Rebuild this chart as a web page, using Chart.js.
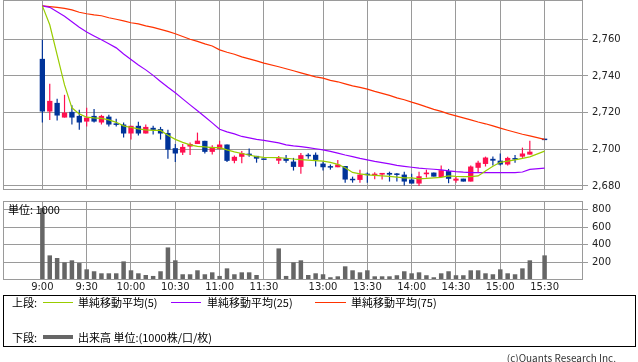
<!DOCTYPE html>
<html>
<head>
<meta charset="utf-8">
<script src="https://cdn.jsdelivr.net/npm/chart.js@4.4.1/dist/chart.umd.min.js"></script>
<style>
  html, body { margin: 0; padding: 0; background: #fff; }
  #wrap { position: relative; width: 638px; height: 362px; overflow: hidden;
          font-family: "Noto Sans CJK JP", "DejaVu Sans", sans-serif; color: #000; }
  #priceCanvas { position: absolute; left: 0; top: 0; }
  #volCanvas { position: absolute; left: 0; top: 196px; }
  .txt { position: absolute; font-size: 11px; line-height: 14px; white-space: nowrap; }
  .swatch { position: absolute; height: 1px; }
  #legendBox { position: absolute; left: 3px; top: 295px; width: 633px; height: 52px;
               border: 1px solid #000; box-sizing: border-box; }
</style>
</head>
<body>
<div id="wrap">
  <canvas id="priceCanvas" width="638" height="191"></canvas>
  <canvas id="volCanvas" width="638" height="100"></canvas>
  <div class="txt" style="left:8px; top:202px;">単位: 1000</div>

  <div id="legendBox"></div>
  <div class="txt" style="left:12px; top:295px;">上段:</div>
  <div class="swatch" style="left:43px; top:302px; width:30px; background:#99cc00;"></div>
  <div class="txt" style="left:78px; top:295px;">単純移動平均(5)</div>
  <div class="swatch" style="left:171px; top:302px; width:30px; background:#9900ff;"></div>
  <div class="txt" style="left:207px; top:295px;">単純移動平均(25)</div>
  <div class="swatch" style="left:315px; top:302px; width:31px; background:#ff3300;"></div>
  <div class="txt" style="left:351px; top:295px;">単純移動平均(75)</div>
  <div class="txt" style="left:12px; top:330px;">下段:</div>
  <div class="swatch" style="left:43px; top:335px; width:30px; height:4px; background:#666;"></div>
  <div class="txt" style="left:78px; top:330px;">出来高 単位:(1000株/口/枚)</div>
  <div class="txt" style="right:22px; top:351px; font-size:10px; color:#333;">(c)Quants Research Inc.</div>
</div>

<script>
// 5-minute slots; '' is the lunch-break spacer
var times = [
  '9:00','9:05','9:10','9:15','9:20','9:25','9:30','9:35','9:40','9:45',
  '9:50','9:55','10:00','10:05','10:10','10:15','10:20','10:25','10:30','10:35',
  '10:40','10:45','10:50','10:55','11:00','11:05','11:10','11:15','11:20','11:25',
  '11:30','','12:30','12:35','12:40','12:45','12:50','12:55','13:00','13:05',
  '13:10','13:15','13:20','13:25','13:30','13:35','13:40','13:45','13:50','13:55',
  '14:00','14:05','14:10','14:15','14:20','14:25','14:30','14:35','14:40','14:45',
  '14:50','14:55','15:00','15:05','15:10','15:15','15:20','15:25','15:30'
];
var timeTicks = ['9:00','9:30','10:00','10:30','11:00','11:30','13:00','13:30','14:00','14:30','15:00','15:30'];
var priceTicks = [2680, 2700, 2720, 2740, 2760];
var volumeTicks = [200, 400, 600, 800];

var opens = [
  2749.3,2720.6,2725.3,2717.3,2720.4,2718.2,2715.1,2718.2,2714.6,2717.8,
  2713.9,2713.5,2708.6,2712.8,2708.6,2711.7,2711.0,2708.9,2700.6,2698.2,
  2701.5,2702.9,2704.6,2698.6,2700.2,2702.6,2693.7,2695.9,2697.5,2696.4,
  2694.2,null,2693.8,2695.1,2693.3,2690.4,2696.8,2697.0,2692.2,2690.4,
  2690.2,2690.9,2683.5,2683.3,2686.2,2685.7,2686.2,2687.1,2686.4,2686.2,
  2683.5,2681.3,2686.4,2687.3,2684.9,2688.1,2682.9,2684.0,2682.4,2689.9,
  2692.0,2694.8,2693.8,2691.7,2694.9,2696.0,2697.1,null,2705.0
];
var highs = [
  2759.7,2735.7,2727.5,2729.7,2724.0,2721.5,2722.6,2722.0,2718.8,2718.8,
  2716.6,2714.6,2712.8,2715.0,2713.5,2712.8,2712.2,2710.6,2702.9,2702.9,
  2703.7,2709.1,2704.6,2702.2,2704.6,2702.6,2696.6,2699.0,2700.4,2696.4,
  2694.2,null,2696.4,2696.9,2695.3,2698.0,2697.9,2698.2,2693.3,2691.7,
  2694.2,2690.9,2685.1,2688.8,2687.3,2687.5,2687.1,2687.8,2687.1,2687.8,
  2686.7,2687.8,2688.9,2687.3,2691.1,2689.3,2684.9,2684.0,2691.1,2693.7,
  2696.0,2696.0,2697.7,2695.9,2696.9,2700.9,2704.7,null,2705.0
];
var lows = [
  2714.6,2716.0,2715.7,2717.3,2713.5,2710.6,2712.4,2714.6,2713.5,2712.4,
  2712.4,2706.4,2705.3,2707.5,2708.6,2708.0,2705.3,2694.9,2693.1,2696.9,
  2696.9,2702.9,2697.7,2697.1,2699.8,2693.1,2692.4,2692.4,2695.9,2692.7,
  2694.2,null,2692.0,2692.7,2688.4,2686.7,2694.9,2690.6,2688.4,2688.9,
  2690.2,2681.8,2681.8,2681.8,2681.8,2683.7,2683.5,2682.4,2682.4,2680.2,
  2681.3,2680.0,2684.6,2685.1,2684.9,2681.5,2681.8,2682.4,2682.4,2687.3,
  2690.6,2691.1,2691.1,2691.1,2692.7,2695.3,2697.1,null,2705.0
];
var closes = [
  2720.6,2726.4,2718.4,2720.0,2717.3,2714.6,2717.3,2715.1,2718.2,2713.5,
  2713.3,2708.6,2712.8,2708.6,2712.2,2710.6,2708.6,2699.8,2697.7,2701.3,
  2702.9,2704.7,2698.6,2701.3,2702.6,2693.7,2695.9,2697.9,2696.8,2694.9,
  2694.2,null,2695.1,2693.7,2690.4,2696.8,2696.2,2694.2,2690.2,2690.0,
  2691.7,2683.5,2683.1,2686.2,2685.9,2686.7,2687.1,2686.2,2686.0,2682.4,
  2681.3,2685.3,2687.3,2685.1,2688.6,2683.9,2684.0,2682.4,2690.6,2692.7,
  2695.5,2693.8,2691.7,2695.3,2694.4,2697.7,2698.7,null,2705.0
];

var ma5 = [
  2778.2,2767.9,2751.5,2735.1,2722.6,2719.3,2717.5,2717.1,2716.9,2716.0,
  2714.7,2712.8,2711.9,2711.1,2710.6,2710.3,2710.3,2707.6,2705.4,2703.8,
  2702.4,2701.6,2701.3,2700.9,2700.9,2699.7,2698.6,2697.7,2696.9,2696.0,
  2695.6,null,2695.5,2695.1,2694.7,2694.4,2694.1,2693.8,2693.5,2692.9,
  2691.8,2689.9,2687.4,2686.6,2686.0,2685.8,2685.5,2685.2,2684.8,2684.4,
  2684.4,2683.9,2684.1,2684.4,2684.7,2685.5,2685.2,2685.1,2685.1,2685.5,
  2688.2,2690.7,2692.9,2693.5,2694.2,2695.0,2695.9,null,2699.0
];
var ma25 = [
  2778.2,2777.4,2775.0,2772.5,2769.5,2766.5,2764.0,2761.8,2759.7,2757.5,
  2755.3,2752.0,2749.0,2746.0,2743.3,2740.3,2737.0,2733.8,2730.8,2727.5,
  2724.2,2721.0,2717.7,2714.4,2710.9,2709.5,2708.4,2707.0,2706.2,2705.4,
  2704.9,null,2703.5,2702.4,2701.9,2701.5,2700.9,2700.3,2699.7,2698.9,
  2697.9,2696.9,2696.0,2695.0,2694.2,2693.4,2692.7,2692.0,2691.2,2690.7,
  2690.2,2689.7,2689.4,2689.1,2688.8,2688.2,2687.8,2687.5,2687.3,2687.3,
  2687.3,2687.3,2687.3,2687.3,2687.3,2687.6,2689.0,null,2689.7
];
var ma75 = [
  2778.2,2777.8,2777.4,2776.8,2776.0,2774.7,2773.9,2773.3,2772.8,2771.7,
  2770.9,2770.0,2769.0,2768.4,2767.3,2766.5,2765.4,2764.3,2763.0,2761.5,
  2760.0,2758.8,2757.5,2756.3,2754.2,2752.9,2751.8,2750.4,2749.3,2748.2,
  2747.0,null,2745.0,2743.9,2742.8,2741.7,2740.6,2739.5,2738.8,2737.6,
  2736.8,2735.7,2734.6,2733.8,2732.8,2731.6,2730.5,2729.4,2728.0,2727.0,
  2725.7,2724.5,2723.1,2721.8,2720.7,2719.3,2718.2,2717.1,2716.0,2714.9,
  2713.9,2712.8,2711.5,2710.4,2709.3,2708.2,2707.3,null,2705.4
];
var volumes = [
  815,279,249,200,223,192,121,99,76,76,
  76,211,110,76,57,46,99,369,223,65,
  65,110,65,87,46,132,65,87,87,57,
  10,null,358,46,200,223,57,76,65,31,
  42,155,110,87,110,42,42,42,54,99,
  76,87,54,31,76,99,54,54,110,110,
  76,65,121,76,65,132,223,null,279
];

var UP = '#ff1050', DOWN = '#003399', GRID = '#9a9a9a';
var X_MIN = -5.33, X_MAX = 73.2;
var tickIdx = timeTicks.map(function (t) { return times.indexOf(t); });

function points(arr) {
  var out = [];
  arr.forEach(function (v, i) { if (v != null) out.push({ x: i, y: v }); });
  return out;
}

var bodies = [], wicks = [], candleColors = [];
opens.forEach(function (o, i) {
  if (o == null) return;
  bodies.push({ x: i, y: [o, closes[i]] });
  wicks.push({ x: i, y: [lows[i], highs[i]] });
  candleColors.push(closes[i] > o ? UP : DOWN);
});

function maLine(arr, color) {
  return { type: 'line', data: points(arr), borderColor: color, borderWidth: 1.2,
           pointRadius: 0, tension: 0, fill: false };
}

// gray frame around the plot area
var framePlugin = {
  id: 'frame',
  afterDraw: function (chart) {
    var a = chart.chartArea, c = chart.ctx;
    c.save();
    c.strokeStyle = GRID;
    c.lineWidth = 1;
    c.strokeRect(Math.round(a.left) + 0.5, Math.round(a.top) + 0.5,
                 Math.round(a.right - a.left) - 1, Math.round(a.bottom - a.top) - 1);
    c.restore();
  }
};

function xScale(showLabels) {
  return {
    type: 'linear', min: X_MIN, max: X_MAX, offset: false,
    grid: { color: GRID, drawTicks: false, offset: false },
    border: { display: false },
    afterBuildTicks: function (s) { s.ticks = tickIdx.map(function (v) { return { value: v }; }); },
    ticks: {
      display: showLabels, autoSkip: false, maxRotation: 0, padding: 1,
      color: '#222', font: { family: 'DejaVu Sans', size: 10 },
      callback: function (v) { return times[v]; }
    },
    afterFit: function (s) {
      s.height = showLabels ? 16 : 0;
      s.paddingLeft = 0; s.paddingRight = 0;
    }
  };
}

function yScale(min, max, ticks, fmt) {
  return {
    position: 'right', min: min, max: max,
    grid: { color: GRID, tickLength: 5 },
    border: { display: false },
    afterBuildTicks: function (s) { s.ticks = ticks.map(function (v) { return { value: v }; }); },
    ticks: { color: '#222', padding: 4, font: { family: 'DejaVu Sans', size: 10 }, callback: fmt },
    afterFit: function (s) {
      s.width = 55;
      s.paddingTop = 0; s.paddingBottom = 0;
    }
  };
}

Chart.defaults.font.family = '"DejaVu Sans", sans-serif';

new Chart(document.getElementById('priceCanvas'), {
  type: 'bar',
  data: {
    datasets: [
      maLine(ma5, '#99cc00'),
      maLine(ma25, '#9900ff'),
      maLine(ma75, '#ff3300'),
      { type: 'bar', data: bodies, backgroundColor: candleColors, grouped: false,
        maxBarThickness: 5.5, minBarLength: 1.5 },
      { type: 'bar', data: wicks, backgroundColor: candleColors, grouped: false,
        maxBarThickness: 1.2 }
    ]
  },
  options: {
    responsive: false,
    animation: false,
    layout: { padding: { left: 3, top: 0, right: 0, bottom: 1 } },
    plugins: { legend: { display: false }, tooltip: { enabled: false } },
    scales: {
      x: xScale(false),
      y: yScale(2677.8, 2781.4, priceTicks, function (v) { return v.toLocaleString('en-US'); })
    }
  },
  plugins: [framePlugin]
});

new Chart(document.getElementById('volCanvas'), {
  type: 'bar',
  data: {
    datasets: [
      { data: points(volumes), backgroundColor: '#666666', grouped: false, maxBarThickness: 4.5 }
    ]
  },
  options: {
    responsive: false,
    animation: false,
    layout: { padding: { left: 3, top: 5, right: 0, bottom: 0 } },
    plugins: { legend: { display: false }, tooltip: { enabled: false } },
    scales: {
      x: xScale(true),
      y: yScale(0, 895, volumeTicks, function (v) { return String(v); })
    }
  },
  plugins: [framePlugin]
});
</script>
</body>
</html>
